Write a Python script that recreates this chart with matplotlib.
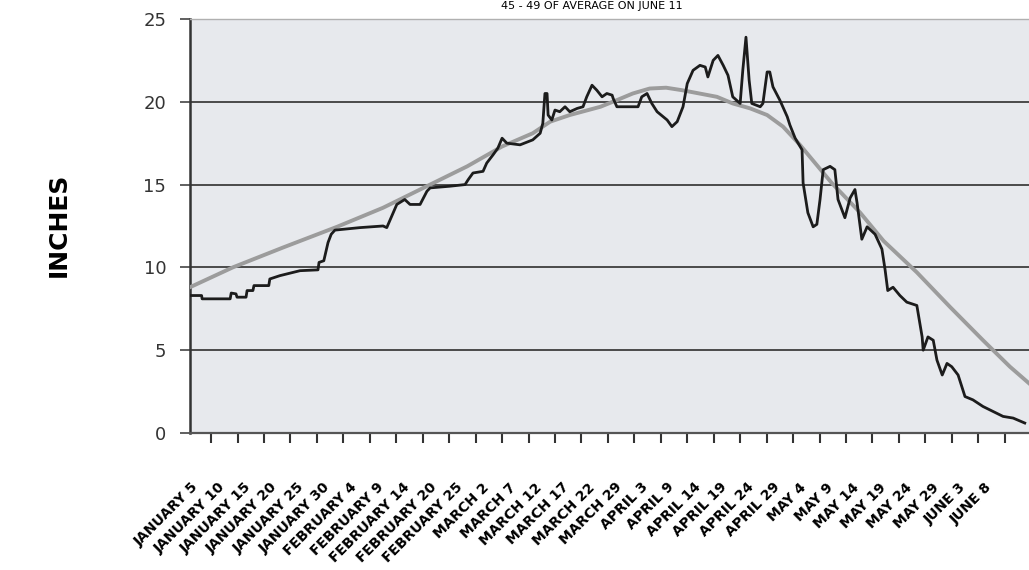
import matplotlib
matplotlib.use("Agg")
import matplotlib.pyplot as plt
from matplotlib.transforms import ScaledTranslation

# days counted from January 1 (0 = Jan 1)
days_obs = [0.0, 2.2, 2.3, 7.6, 7.8, 8.7, 8.9, 10.6, 10.8, 11.9, 12.1, 14.9, 15.1, 17.0,
            19.5, 20.8, 24.2, 24.4, 25.3, 26.1, 26.7, 27.4, 32.1, 36.5, 37.2, 39.1, 40.6,
            41.6, 43.5, 44.8, 45.4, 49.1, 52.0, 52.6, 53.5, 55.4, 56.1, 57.3, 58.2, 59.0,
            59.9, 62.4, 64.8, 66.2, 66.7, 67.1, 67.5, 67.7, 68.4, 69.0, 69.9, 70.9, 71.8,
            73.2, 74.3, 75.0, 76.0, 76.9, 77.9, 78.8, 79.8, 80.0, 80.7, 84.7, 85.4, 86.4,
            87.3, 88.3, 90.2, 91.1, 92.1, 93.2, 94.0, 95.1, 96.4, 97.4, 97.9, 98.9, 99.8,
            100.8, 101.7, 102.6, 104.0, 104.5, 105.1, 105.7, 106.2, 107.8, 108.3, 109.1,
            109.6, 110.2, 111.5, 112.9, 113.4, 114.4, 115.7, 115.9, 116.8, 117.8, 118.5,
            119.1, 119.7, 121.0, 121.9, 122.5, 123.8, 124.8, 125.7, 126.1, 127.0, 128.0,
            129.5, 130.8, 131.4, 131.9, 132.9, 134.2, 135.5, 137.4, 138.4, 138.6, 139.5,
            140.5, 141.2, 142.2, 143.1, 144.0, 145.2, 146.5, 148.0, 149.9, 151.8, 153.7,
            155.6, 157.8]
depth_obs = [8.3, 8.3, 8.1, 8.1, 8.45, 8.4, 8.2, 8.2, 8.6, 8.6, 8.9, 8.9, 9.3, 9.5,
             9.7, 9.8, 9.85, 10.3, 10.4, 11.5, 12.0, 12.25, 12.4, 12.5, 12.4, 13.8, 14.1,
             13.8, 13.8, 14.6, 14.8, 14.9, 15.0, 15.3, 15.7, 15.8, 16.3, 16.8, 17.2, 17.8,
             17.5, 17.4, 17.7, 18.1, 18.7, 20.5, 20.5, 19.2, 18.9, 19.5, 19.4, 19.7, 19.4,
             19.6, 19.7, 20.3, 21.0, 20.7, 20.3, 20.5, 20.4, 20.2, 19.7, 19.7, 20.3, 20.5,
             19.9, 19.4, 18.9, 18.5, 18.8, 19.7, 21.1, 21.9, 22.2, 22.1, 21.5, 22.5, 22.8,
             22.2, 21.6, 20.3, 19.9, 21.9, 23.9, 21.3, 19.9, 19.7, 19.9, 21.8,
             21.8, 20.9, 20.1, 19.1, 18.6, 17.8, 17.1, 15.1, 13.3, 12.45, 12.6,
             14.1, 15.9, 16.1, 15.9, 14.1, 13.0, 14.2, 14.7, 13.9, 11.7, 12.45,
             12.0, 11.1, 9.85, 8.6, 8.8, 8.3, 7.9, 7.7, 5.8, 5.0, 5.8,
             5.6, 4.4, 3.5, 4.2, 4.0, 3.5, 2.2, 2.0, 1.6, 1.3, 1.0,
             0.9, 0.6]

days_avg = [0.0, 8.1, 17.6, 27.8, 36.5, 45.4, 52.4, 59.0, 64.8, 68.1, 71.8, 77.6, 80.7,
            83.7, 86.9, 90.0, 93.0, 99.6, 102.6, 105.9, 109.1, 112.1, 115.3, 121.3, 126.7,
            131.1, 137.4, 143.7, 149.9, 155.0, 158.6]
depth_avg = [8.8, 10.0, 11.2, 12.45, 13.6, 15.0, 16.1, 17.3, 18.1, 18.8, 19.2, 19.7, 20.1,
             20.5, 20.8, 20.85, 20.7, 20.3, 19.9, 19.6, 19.2, 18.5, 17.4, 15.1, 13.3,
             11.6, 9.7, 7.6, 5.6, 4.0, 3.0]

tick_labels = ["JANUARY 5", "JANUARY 10", "JANUARY 15", "JANUARY 20", "JANUARY 25",
               "JANUARY 30", "FEBRUARY 4", "FEBRUARY 9", "FEBRUARY 14", "FEBRUARY 20",
               "FEBRUARY 25", "MARCH 2", "MARCH 7", "MARCH 12", "MARCH 17", "MARCH 22",
               "MARCH 29", "APRIL 3", "APRIL 9", "APRIL 14", "APRIL 19", "APRIL 24",
               "APRIL 29", "MAY 4", "MAY 9", "MAY 14", "MAY 19", "MAY 24", "MAY 29",
               "JUNE 3", "JUNE 8"]
tick_days = [4 + 5 * i for i in range(len(tick_labels))]

fig = plt.figure(figsize=(10.29, 5.70), dpi=100)
ax = fig.add_axes([0.1846, 0.2404, 0.8154, 0.7263])
ax.set_facecolor("#e7e9ed")

ax.set_xlim(0, 158.6)
ax.set_ylim(0, 25)
ax.set_yticks([0, 5, 10, 15, 20, 25])
ax.grid(axis="y", color="#4a4a4a", linewidth=1.4)
ax.set_axisbelow(True)

ax.plot(days_avg, depth_avg, color="#9c9c9c", linewidth=2.8, zorder=3)
ax.plot(days_obs, depth_obs, color="#1c1c1c", linewidth=2.0, zorder=4)

ax.spines["right"].set_visible(False)
ax.spines["top"].set_color("#b0b0b0")
ax.spines["top"].set_linewidth(1)
ax.spines["left"].set_color("#333333")
ax.spines["left"].set_linewidth(1.8)
ax.spines["bottom"].set_color("#555555")
ax.spines["bottom"].set_linewidth(1.6)

ax.tick_params(axis="y", direction="out", length=7, width=1.2, color="#444444",
               labelsize=13, labelcolor="#333333", pad=10)
ax.tick_params(axis="x", direction="out", length=7.5, width=1.5, color="#333333",
               pad=30)
ax.set_xticks(tick_days)
ax.set_xticklabels(tick_labels, rotation=45, ha="right", rotation_mode="anchor",
                   fontsize=10, fontweight="bold", va="center")
shift = ScaledTranslation(-0.15, 0, fig.dpi_scale_trans)
for lab in ax.get_xticklabels():
    lab.set_transform(lab.get_transform() + shift)

fig.text(0.057, 0.605, "INCHES", rotation=90, ha="center", va="center",
         fontsize=18, fontweight="bold")
fig.text(0.575, 1 - 1 / 570, "45 - 49 OF AVERAGE ON JUNE 11", ha="center",
         va="top", fontsize=8)

fig.savefig("out.png", dpi=100)
